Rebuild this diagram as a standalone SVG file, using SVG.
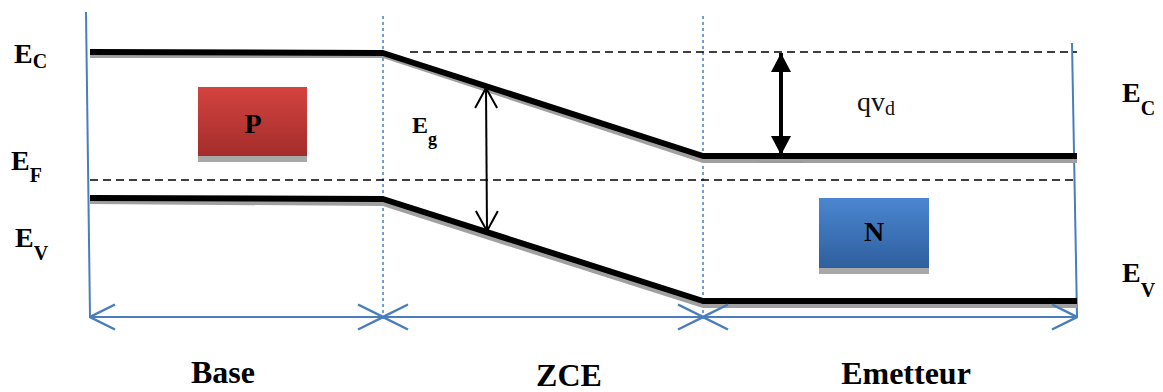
<svg xmlns="http://www.w3.org/2000/svg" width="1163" height="392" viewBox="0 0 1163 392">
<defs>
<style>
.lbl{font-family:"Liberation Serif","DejaVu Serif","Times New Roman",serif;font-weight:bold;fill:#000}
.reg{font-family:"Liberation Serif","DejaVu Serif","Times New Roman",serif;font-weight:normal;fill:#111}
.band{stroke:#000;stroke-width:6;fill:none;stroke-linejoin:round}
.shadow{stroke:#a0a0a0;stroke-width:6;fill:none;stroke-linejoin:round}
.bdash{stroke:#000;stroke-width:1.6;stroke-dasharray:8 5;fill:none}
.vdash{stroke:#4a7ebb;stroke-width:1.5;stroke-dasharray:3 3;fill:none}
.blue{stroke:#4a7ebb;stroke-width:2;fill:none}
</style>
<linearGradient id="gRed" x1="0" y1="0" x2="0" y2="1">
<stop offset="0" stop-color="#d4433f"/>
<stop offset="1" stop-color="#a32d2b"/>
</linearGradient>
<linearGradient id="gBlue" x1="0" y1="0" x2="0" y2="1">
<stop offset="0" stop-color="#4a86d0"/>
<stop offset="1" stop-color="#2f5f9e"/>
</linearGradient>
<marker id="chev" viewBox="0 0 30 30" refX="29" refY="15" markerWidth="30" markerHeight="30" markerUnits="userSpaceOnUse" orient="auto-start-reverse">
<path d="M4,2.5 L29,15 L4,27.5" fill="none" stroke="#4a7ebb" stroke-width="2.5"/>
</marker>
<marker id="open" viewBox="0 0 24 24" refX="22" refY="12" markerWidth="24" markerHeight="24" markerUnits="userSpaceOnUse" orient="auto-start-reverse">
<path d="M2,1 L22,12 L2,23" fill="none" stroke="#000" stroke-width="2"/>
</marker>
<marker id="fill" viewBox="0 0 20 20" refX="19" refY="10" markerWidth="20" markerHeight="20" markerUnits="userSpaceOnUse" orient="auto-start-reverse">
<path d="M0,0 L19,10 L0,20 Z" fill="#000"/>
</marker>
</defs>

<g id="frame">
<line class="blue" x1="86" y1="12" x2="90" y2="317"/>
<line class="blue" x1="1072" y1="43" x2="1077" y2="316"/>
<line class="vdash" x1="383" y1="16" x2="383" y2="320"/>
<line class="vdash" x1="703" y1="16" x2="703" y2="320"/>
</g>

<g id="levels">
<line class="bdash" x1="410" y1="52" x2="1077" y2="52"/>
<line class="bdash" x1="90" y1="180" x2="1077" y2="180"/>
<polyline class="shadow" points="90,55 383,55 703,160 1077,160"/>
<polyline class="band" points="90,52 383,53 703,156 1077,156"/>
<polyline class="shadow" points="90,201 383,203 703,305 1077,305"/>
<polyline class="band" points="90,198 383,199 703,301 1077,301"/>
<line x1="759" y1="162" x2="803" y2="162" stroke="#999" stroke-width="1.5"/>
</g>

<g id="connectors">
<line x1="90" y1="317" x2="383" y2="317" class="blue" marker-start="url(#chev)" marker-end="url(#chev)"/>
<line x1="383" y1="317" x2="703" y2="317" class="blue" marker-start="url(#chev)" marker-end="url(#chev)"/>
<line x1="703" y1="317" x2="1077" y2="317" class="blue" marker-start="url(#chev)" marker-end="url(#chev)"/>
<line x1="486" y1="88" x2="487" y2="231" stroke="#000" stroke-width="2" marker-start="url(#open)" marker-end="url(#open)"/>
<line x1="781" y1="53" x2="781" y2="155" stroke="#000" stroke-width="4" marker-start="url(#fill)" marker-end="url(#fill)"/>
</g>

<g id="nodeP">
<rect x="198" y="93" width="109" height="69" fill="#a8a8a8"/>
<rect x="198" y="87" width="109" height="69" fill="url(#gRed)"/>
<text class="lbl" x="253" y="133" font-size="28" text-anchor="middle">P</text>
</g>

<g id="nodeN">
<rect x="819" y="204" width="110" height="70" fill="#a8a8a8"/>
<rect x="819" y="198" width="110" height="70" fill="url(#gBlue)"/>
<text class="lbl" x="874" y="241" font-size="28" text-anchor="middle">N</text>
</g>

<g id="labels">
<text class="lbl" x="14" y="63" font-size="28">E<tspan font-size="20" dy="5">C</tspan></text>
<text class="lbl" x="11" y="170" font-size="28">E<tspan font-size="20" dy="12">F</tspan></text>
<text class="lbl" x="15" y="247" font-size="28">E<tspan font-size="20" dy="13">V</tspan></text>
<text class="lbl" x="1122" y="102" font-size="28">E<tspan font-size="20" dy="13">C</tspan></text>
<text class="lbl" x="1122" y="282" font-size="28">E<tspan font-size="20" dy="15">V</tspan></text>
<text class="lbl" x="412" y="133" font-size="24">E<tspan font-size="18" dy="12">g</tspan></text>
<text class="reg" x="857" y="111" font-size="28">qv<tspan font-size="20" dy="4">d</tspan></text>
<text class="lbl" x="223" y="383" font-size="32" text-anchor="middle">Base</text>
<text class="lbl" x="569" y="386" font-size="32" text-anchor="middle">ZCE</text>
<text class="lbl" x="906" y="384" font-size="32" text-anchor="middle">Emetteur</text>
</g>
</svg>
